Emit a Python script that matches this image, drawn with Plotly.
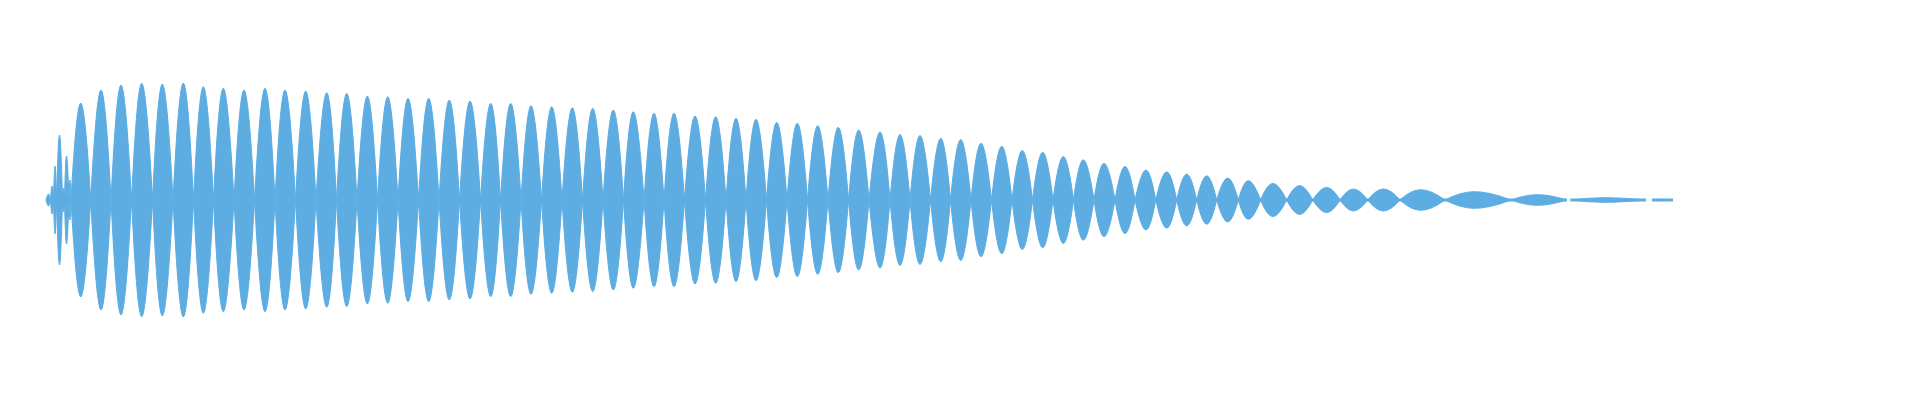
import plotly.graph_objects as go

# Waveform envelope, one entry per lobe
# (time in screen-like units, amplitude in the same units)
lobe_start = [46, 50.5, 53.5, 56.5, 62.5, 64.5, 69,
              71, 90.7, 111, 131.5, 152.5, 173, 193.5, 213.5, 234, 254.5,
              275, 295.5, 316, 336.5, 357, 377.5, 398, 418.5, 439, 459.5,
              480.5, 500.5, 521, 541.5, 562, 582.5, 603, 623.5, 644, 664,
              684.5, 705.5, 726, 746, 766.5, 787, 807.5, 828, 848.5, 869,
              890, 910, 930.5, 950.5, 971, 991.5, 1012, 1032.5, 1053, 1073.5,
              1094, 1115, 1135, 1155.7, 1176.7, 1196.7, 1216.7, 1238.3, 1260.7, 1286.7,
              1312.7, 1340, 1367.7, 1400, 1445, 1511, 1570.5, 1652]
lobe_peak = [48.5, 52, 55, 59.5, 63.5, 66.5, 70,
             80.7, 101, 121, 141.7, 162.3, 183.3, 203.3, 223.3, 244, 265,
             285, 305.7, 326.7, 346.7, 367.3, 387.7, 408, 428.7, 449.3, 470,
             490.7, 510.7, 531, 551.7, 572.3, 592.7, 613.3, 633.3, 654, 674,
             695, 715.7, 736, 756, 776.7, 797.3, 817.7, 838.3, 858.7, 880,
             900, 920, 940.7, 960.7, 981, 1001.7, 1022.3, 1042.7, 1063.3, 1083.3,
             1104, 1125, 1146, 1166.7, 1186.7, 1206.7, 1227.7, 1248.3, 1272.7, 1299.5,
             1326.7, 1353.3, 1383.3, 1420, 1473, 1536.7, 1603, 1662]
lobe_end = [50.5, 53.5, 56.5, 62.5, 64.5, 69, 71,
            90.7, 111, 131.5, 152.5, 173, 193.5, 213.5, 234, 254.5, 275,
            295.5, 316, 336.5, 357, 377.5, 398, 418.5, 439, 459.5, 480.5,
            500.5, 521, 541.5, 562, 582.5, 603, 623.5, 644, 664, 684.5,
            705.5, 726, 746, 766.5, 787, 807.5, 828, 848.5, 869, 890,
            910, 930.5, 950.5, 971, 991.5, 1012, 1032.5, 1053, 1073.5, 1094,
            1115, 1135, 1155.7, 1176.7, 1196.7, 1216.7, 1238.3, 1260.7, 1286.7, 1312.7,
            1340, 1367.7, 1400, 1445, 1511, 1567, 1646, 1673]
lobe_amp = [6, 14, 34, 65, 12, 44, 20,
            97, 110, 115, 116.7, 116, 117, 113.3, 111.7, 110, 111.7,
            110, 109, 107.3, 106.7, 104, 103.3, 101.7, 101.7, 100, 99,
            96.7, 96.7, 94.3, 93.3, 92.3, 91.7, 90, 88.3, 86.7, 86.7,
            84, 83.3, 81.7, 80.7, 77.7, 76.7, 74.3, 72.7, 70, 68,
            65.5, 64.5, 61.8, 60.5, 56.8, 53.8, 49.5, 47.8, 43.5, 40.2,
            36.6, 33.6, 30, 28.3, 26, 24.3, 22, 19.3, 16.6, 14.5,
            12.6, 11, 11, 10.3, 8.3, 5.3, 2.3, 0.7]

COLOR = "#5DADE2"

xs, y_up, y_dn = [], [], []
for s, p, e, a in zip(lobe_start, lobe_peak, lobe_end, lobe_amp):
    xs += [s, p, e, None]
    y_up += [0, a, 0, None]
    y_dn += [0, -a, 0, None]

# centre line segments (waveform spans)
cx, cy = [], []
seg_breaks = [(lobe_start[0], lobe_end[-3]), (lobe_start[-2], lobe_end[-2]), (lobe_start[-1], lobe_end[-1])]
for a, b in seg_breaks:
    cx += [a, b, None]
    cy += [0, 0, None]

fig = go.Figure()
for yy in (y_up, y_dn):
    fig.add_trace(go.Scatter(
        x=xs, y=yy, mode="lines",
        line=dict(color=COLOR, width=1, shape="spline", smoothing=1.3),
        fill="tozeroy", fillcolor=COLOR, hoverinfo="skip", showlegend=False,
    ))
fig.add_trace(go.Scatter(x=cx, y=cy, mode="lines", line=dict(color=COLOR, width=3),
                         hoverinfo="skip", showlegend=False))

fig.update_layout(
    width=1920, height=400,
    margin=dict(l=0, r=0, t=0, b=0),
    paper_bgcolor="white", plot_bgcolor="white",
    xaxis=dict(range=[0, 1920], visible=False, fixedrange=True),
    yaxis=dict(range=[-200, 200], visible=False, fixedrange=True),
    showlegend=False,
)

fig.write_html("out.html", config={"displayModeBar": False},
               post_script="document.body.style.margin='0';")
